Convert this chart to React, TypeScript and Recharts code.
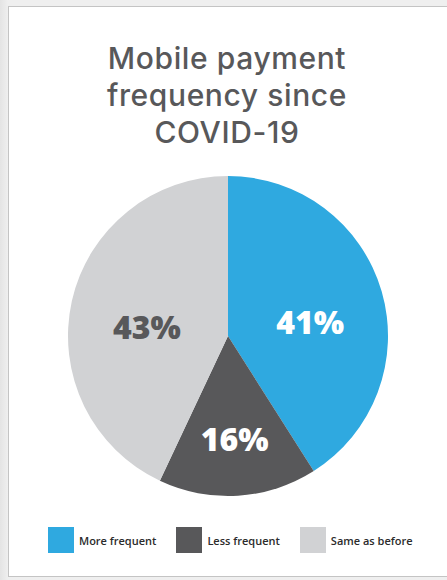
import { PieChart, Pie, Cell, Legend } from "recharts";

const categories = ["More frequent", "Less frequent", "Same as before"];
const shares = [41, 16, 43];
const sliceColors = ["#2fa9e0", "#58585a", "#d1d2d4"];
const labelColors = ["#ffffff", "#ffffff", "#58585a"];
const titleLines = ["Mobile payment", "frequency since", "COVID-19"];

const data = categories.map((name, i) => ({ name, value: shares[i] }));

const RADIAN = Math.PI / 180;

// label near the centroid of its slice, nudged a little for the wide slices
function renderLabel(props: any) {
  const { cx, cy, midAngle, outerRadius, percent, index, value } = props;
  const half = Math.PI * percent;
  const d = (2 * outerRadius * Math.sin(half)) / (3 * half);
  const c = Math.cos(-midAngle * RADIAN);
  const s = Math.sin(-midAngle * RADIAN);
  const x = cx + d * c + 6 * c;
  const y = cy + d * s + 8 * Math.abs(c);
  return (
    <text
      x={x}
      y={y}
      fill={labelColors[index]}
      textAnchor="middle"
      dominantBaseline="central"
      fontFamily="'Open Sans', sans-serif"
      fontWeight={800}
      fontSize={32}
    >
      {`${value}%`}
    </text>
  );
}

function LegendBox() {
  return (
    <div style={{ display: "flex", alignItems: "center", gap: 20 }}>
      {categories.map((c, i) => (
        <div key={c} style={{ display: "flex", alignItems: "center" }}>
          <div
            style={{ width: 26, height: 26, background: sliceColors[i], marginRight: 5 }}
          />
          <span
            style={{
              fontFamily: "'Open Sans', sans-serif",
              fontWeight: 600,
              fontSize: 11,
              color: "#2b2b2b",
            }}
          >
            {c}
          </span>
        </div>
      ))}
    </div>
  );
}

export default function App() {
  return (
    <div
      style={{
        position: "absolute",
        left: 0,
        top: 0,
        width: 447,
        height: 580,
        background: "linear-gradient(90deg, #e4e4e4 0px, #efefef 8px)",
        overflow: "hidden",
      }}
    >
      <div
        style={{
          position: "absolute",
          left: 8,
          top: 6,
          width: 447,
          height: 571,
          background: "#ffffff",
          border: "1px solid #c4c4c4",
          boxSizing: "border-box",
        }}
      />
      <div
        style={{
          position: "absolute",
          left: 0,
          top: 40,
          width: 454,
          textAlign: "center",
          fontFamily: "Inter, 'Open Sans', sans-serif",
          fontWeight: 500,
          fontSize: 30,
          letterSpacing: 0.6,
          lineHeight: "37px",
          color: "#58585a",
        }}
      >
        {titleLines.map((t) => (
          <div key={t}>{t}</div>
        ))}
      </div>
      <div style={{ position: "absolute", left: 0, top: 0 }}>
        <PieChart width={447} height={580} margin={{ top: 0, right: 0, bottom: 0, left: 0 }}>
          <Pie
            data={data}
            dataKey="value"
            nameKey="name"
            cx={228}
            cy={336}
            outerRadius={160}
            startAngle={90}
            endAngle={-270}
            stroke="none"
            label={renderLabel}
            labelLine={false}
            isAnimationActive={false}
          >
            {data.map((d, i) => (
              <Cell key={d.name} fill={sliceColors[i]} />
            ))}
          </Pie>
          <Legend
            content={() => <LegendBox />}
            wrapperStyle={{ position: "absolute", left: 48, top: 527, width: "auto" }}
          />
        </PieChart>
      </div>
    </div>
  );
}
